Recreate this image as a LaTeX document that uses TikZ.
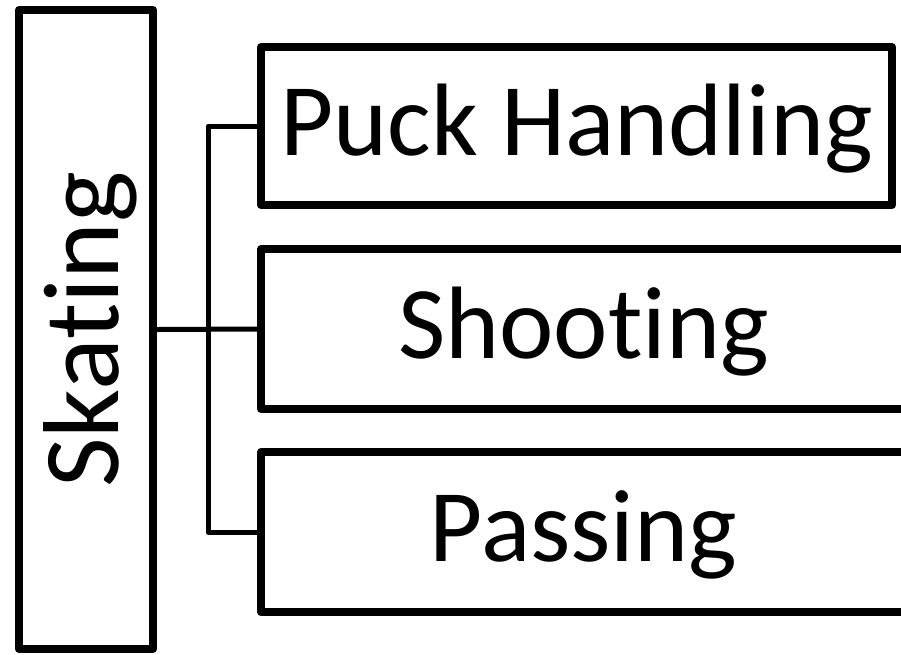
\documentclass[tikz,border=0pt]{standalone}
\usepackage{fontspec}
\setmainfont{Carlito}[Ligatures=NoCommon]
\usetikzlibrary{shadows}

\begin{document}
\begin{tikzpicture}[x=1pt,y=-1pt,
  skill/.style={draw,line width=8pt,line join=round,fill=white,inner sep=0pt,
    text height=75pt,text depth=17pt,
    drop shadow={shadow xshift=1.5pt,shadow yshift=-2.5pt,opacity=0.25},
    font=\fontsize{103}{103}\selectfont},
  link/.style={line width=5pt,line join=round}]
\useasboundingbox (0,0) rectangle (901,654);
\node[skill,text height=,text depth=,minimum width=134pt,minimum height=639pt,
  font=\fontsize{108}{108}\selectfont] (skate) at (86,329.5)
  {\rotatebox{90}{\raisebox{0pt}[80pt][16pt]{Skating}}};
\node[skill,minimum width=631pt,minimum height=158pt] (puck) at (576.5,126) {Puck Handling};
\node[skill,minimum width=645pt,minimum height=160pt] (shoot) at (583.5,329) {Shooting};
\node[skill,minimum width=645pt,minimum height=160pt] (pass) at (583.5,532) {Passing};
\coordinate (spine) at (208,329);
% connectors
\draw[link] (skate.east) -- (shoot.west);
\draw[link] (puck.west) -| (spine) |- (pass.west);
\end{tikzpicture}
\end{document}
